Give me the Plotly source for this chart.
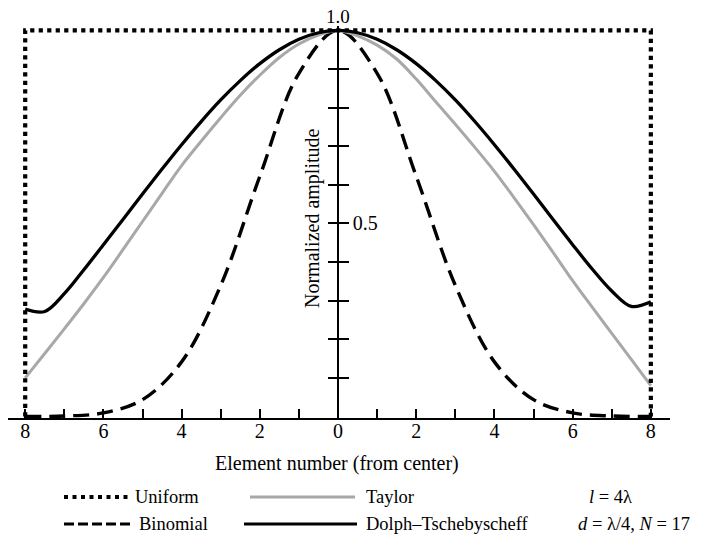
import plotly.graph_objects as go

# ---------------- data ----------------
element_x = [-8, -7.5, -7, -6.5, -6, -5.5, -5, -4.5, -4, -3.5, -3, -2.5, -2, -1.5, -1, -0.5,
             0, 0.5, 1, 1.5, 2, 2.5, 3, 3.5, 4, 4.5, 5, 5.5, 6, 6.5, 7, 7.5, 8]

dolph_vals = [0.278, 0.272, 0.318, 0.38, 0.445, 0.51, 0.576, 0.641, 0.704, 0.764, 0.82, 0.87,
              0.914, 0.95, 0.977, 0.994, 1.0, 0.994, 0.977, 0.95, 0.914, 0.87, 0.82, 0.764,
              0.704, 0.641, 0.576, 0.51, 0.445, 0.382, 0.325, 0.285, 0.297]

taylor_vals = [0.10, 0.163, 0.227, 0.292, 0.36, 0.432, 0.505, 0.578, 0.65, 0.713, 0.774, 0.832,
               0.884, 0.93, 0.965, 0.988, 1.0, 0.986, 0.962, 0.926, 0.874, 0.815, 0.757, 0.697,
               0.635, 0.567, 0.497, 0.425, 0.352, 0.283, 0.215, 0.148, 0.08]

binomial_x = [-8, -7, -6, -5, -4, -3, -2, -1, 0, 1, 2, 3, 4, 5, 6, 7, 8]
binomial_vals = [0.0001, 0.0012, 0.0093, 0.0435, 0.1414, 0.3394, 0.6222, 0.8889, 1.0,
                 0.8889, 0.6222, 0.3394, 0.1414, 0.0435, 0.0093, 0.0012, 0.0001]

uniform_x = [-8, -8, 8, 8]
uniform_y = [0, 1, 1, 0]

x_tick_vals = [-8, -7, -6, -5, -4, -3, -2, -1, 0, 1, 2, 3, 4, 5, 6, 7, 8]
x_tick_text = ["8", "", "6", "", "4", "", "2", "", "0", "", "2", "", "4", "", "6", "", "8"]
y_tick_vals = [0.1, 0.2, 0.3, 0.4, 0.5, 0.6, 0.7, 0.8, 0.9]
y_tick_text = ["", "", "", "", "0.5", "", "", "", ""]

legend_names = ["Uniform", "Binomial", "Taylor", "Dolph–Tschebyscheff"]

# ---------------- layout geometry ----------------
# page offset: the html body has an 8px margin
OFF = 8
W, H = 706, 541
ML, MR, MT, MB = 0, 44, 18, 131
PW, PH = W - ML - MR, H - MT - MB
XR = [-8.44, 8.49]
YR = [-0.004, 1.0115]

def px_x(px):
    """page x pixel -> paper fraction"""
    return (px - OFF - ML) / PW

def px_y(py):
    """page y pixel -> paper fraction"""
    return (H - MB - (py - OFF)) / PH

y_axis_pos = (0 - XR[0]) / (XR[1] - XR[0])

SERIF = "Liberation Serif, Times New Roman, serif"
BLACK = "#000000"
TAYLOR_GRAY = "#a8a8a8"

fig = go.Figure()

fig.add_trace(go.Scatter(x=binomial_x, y=binomial_vals, mode="lines", line_shape="spline",
                         line=dict(color=BLACK, width=3.4, dash="16px,8px"),
                         name=legend_names[1], showlegend=False))
fig.add_trace(go.Scatter(x=element_x, y=taylor_vals, mode="lines", line_shape="spline",
                         line=dict(color=TAYLOR_GRAY, width=3),
                         name=legend_names[2], showlegend=False))
fig.add_trace(go.Scatter(x=element_x, y=dolph_vals, mode="lines", line_shape="spline",
                         line=dict(color=BLACK, width=3.3),
                         name=legend_names[3], showlegend=False))
fig.add_trace(go.Scatter(x=uniform_x, y=uniform_y, mode="lines", yaxis="y2",
                         line=dict(color=BLACK, width=4.2, dash="4.2px,4.3px"),
                         name=legend_names[0], showlegend=False))

fig.update_layout(
    width=W, height=H,
    margin=dict(l=ML, r=MR, t=MT, b=MB, pad=0),
    paper_bgcolor="white", plot_bgcolor="white",
    font=dict(family=SERIF, color=BLACK, size=20),
    showlegend=False,
    xaxis=dict(range=XR, showgrid=False, zeroline=False, showline=True,
               linecolor=BLACK, linewidth=1.5, ticks="inside", ticklen=9,
               tickwidth=1.5, tickcolor=BLACK, tickmode="array",
               tickvals=x_tick_vals, ticktext=x_tick_text, ticklabelstandoff=-6,
               tickfont=dict(family=SERIF, size=20, color=BLACK)),
    yaxis=dict(range=YR, showgrid=False, zeroline=False, showline=True,
               linecolor=BLACK, linewidth=1.5, anchor="free", position=y_axis_pos,
               side="right", ticks="outside", ticklen=10, tickwidth=1.5,
               tickcolor=BLACK, tickmode="array", tickvals=y_tick_vals,
               ticktext=y_tick_text,
               tickfont=dict(family=SERIF, size=20, color=BLACK)),
    yaxis2=dict(range=YR, overlaying="y", showgrid=False, zeroline=False,
                showline=False, anchor="free", position=y_axis_pos, side="left",
                ticks="outside", ticklen=10, tickwidth=1.5, tickcolor=BLACK,
                tickmode="array", tickvals=y_tick_vals, showticklabels=False),
)

ann = []
# top "1.0" label
ann.append(dict(x=0, y=1.0, xref="x", yref="y", text="1.0", showarrow=False,
                xanchor="center", yanchor="bottom", yshift=1,
                font=dict(family=SERIF, size=19, color=BLACK)))
# y axis title
ann.append(dict(x=px_x(312), y=px_y(218), xref="paper", yref="paper",
                text="Normalized amplitude", textangle=-90, showarrow=False,
                xanchor="center", yanchor="middle",
                font=dict(family=SERIF, size=20, color=BLACK)))
# x axis title
ann.append(dict(x=px_x(337), y=px_y(463), xref="paper", yref="paper",
                text="Element number (from center)", showarrow=False,
                xanchor="center", yanchor="middle",
                font=dict(family=SERIF, size=20, color=BLACK)))

row1, row2 = 497, 524
LEG_FONT = dict(family=SERIF, size=18.5, color=BLACK)
legend_text_pos = [(133, row1), (137, row2), (364, row1), (364, row2)]
for name, (lx, ly) in zip(legend_names, legend_text_pos):
    ann.append(dict(x=px_x(lx), y=px_y(ly), xref="paper", yref="paper", text=name,
                    showarrow=False, xanchor="left", yanchor="middle", font=LEG_FONT))
ann.append(dict(x=px_x(587), y=px_y(row1), xref="paper", yref="paper",
                text="<i>l</i> = 4λ", showarrow=False, xanchor="left",
                yanchor="middle", font=LEG_FONT))
ann.append(dict(x=px_x(576), y=px_y(row2), xref="paper", yref="paper",
                text="<i>d</i> = λ/4, <i>N</i> = 17", showarrow=False, xanchor="left",
                yanchor="middle", font=LEG_FONT))
fig.update_layout(annotations=ann)

# legend samples
shapes = []
samples = [
    ((64, 130, row1), dict(color=BLACK, width=4, dash="4px,4.5px")),
    ((64, 132, row2), dict(color=BLACK, width=3, dash="10px,4px")),
    ((250, 355, row1), dict(color=TAYLOR_GRAY, width=3)),
    ((244, 357, row2), dict(color=BLACK, width=3)),
]
for (x0, x1, yy), ln in samples:
    shapes.append(dict(type="line", xref="paper", yref="paper",
                       x0=px_x(x0), x1=px_x(x1), y0=px_y(yy), y1=px_y(yy), line=ln))
fig.update_layout(shapes=shapes)

fig.write_html("out.html")
